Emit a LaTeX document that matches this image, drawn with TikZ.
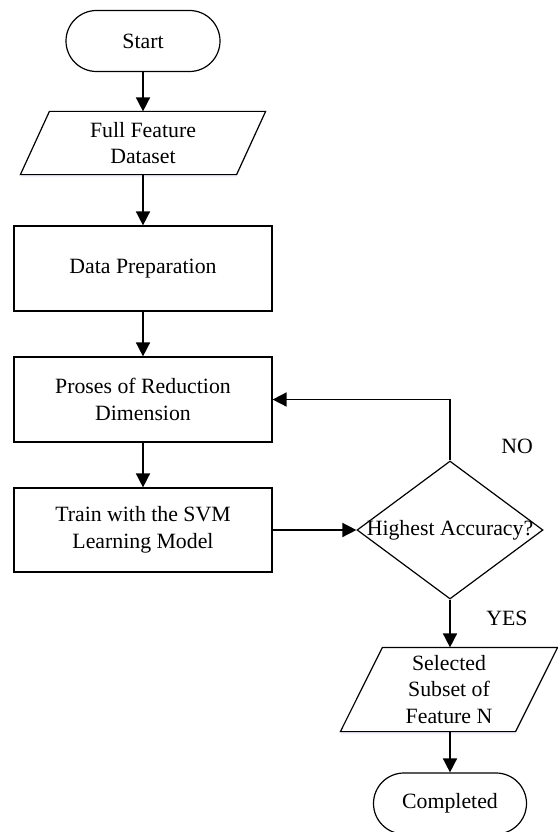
\documentclass[tikz,border=0pt]{standalone}
\usepackage{fontspec}
\setmainfont{Liberation Serif}
\usetikzlibrary{shapes.geometric,shapes.misc,arrows.meta,shadows,backgrounds}

\tikzset{every picture/.style={line width=1.2pt}}
\tikzset{
  txt/.style={font=\fontsize{21.8}{26.5}\selectfont, align=center},
  terminal/.style={txt, draw, rounded rectangle, inner sep=0pt, minimum width=154pt, minimum height=61pt},
  process/.style={txt, draw, rectangle, inner sep=0pt, minimum width=258pt, minimum height=85pt},
  iodata/.style={txt, rectangle, inner sep=0pt},
  ioshade/.style={draw=black, line width=1.2pt, fill=white, drop shadow={shadow xshift=0pt, shadow yshift=-2.5pt, fill=blue!10, draw=none}},
  decision/.style={draw, diamond, inner sep=0pt, minimum width=186pt, minimum height=138pt},
  flow/.style={line width=1.6pt, -{Triangle[length=14pt,width=14pt]}}
}
% parallelogram round a named node: #1 node, #2 slant offset
\newcommand{\ioshape}[2]{\draw [ioshade] ([xshift=#2]#1.north west) -- (#1.north east) -- ([xshift=-#2]#1.south east) -- (#1.south west) -- cycle;}

\begin{document}
\begin{tikzpicture}[x=1pt,y=1pt,yscale=-1,xscale=1]
\useasboundingbox (0,0) rectangle (557,832);

% Terminator
\node [terminal] (start) at (143,41) {Start};
% Data
\node [iodata, minimum width=244pt, minimum height=62pt] (dataset) at (143,143) {Full Feature\\Dataset};
% Process
\node [process] (prep) at (143,268.5) {Data Preparation};
% Process
\node [process] (reduce) at (143,399.5) {Proses of Reduction\\Dimension};
% Process
\node [process, minimum height=84pt] (train) at (143,530) {Train with the SVM\\Learning Model};
% Decision
\node [decision, label={[txt]center:Highest Accuracy?}] (check) at (450,530) {};
% Data
\node [iodata, minimum width=216pt, minimum height=83pt] (subset) at (449,689.5) {Selected\\Subset of\\Feature N};
% Terminator
\node [terminal, minimum width=153pt] (done) at (450,803.5) {Completed};

% Data outlines
\begin{scope}[on background layer]
\ioshape{dataset}{29pt}
\ioshape{subset}{42pt}
\end{scope}

% Text Node
\node [txt] (nolbl) at (517,446) {NO};
% Text Node
\node [txt] (yeslbl) at (507,618) {YES};

% Connectors
\draw [flow] (start) -- (dataset);
\draw [flow] (dataset) -- (prep);
\draw [flow] (prep) -- (reduce);
\draw [flow] (reduce) -- (train);
\draw [flow] (train) -- (check);
\draw [flow] (check.north) |- (reduce.east);
\draw [flow] (check.south) -- (check.south |- subset.north);
\draw [flow] (subset.south -| done.north) -- (done.north);

\end{tikzpicture}
\end{document}
